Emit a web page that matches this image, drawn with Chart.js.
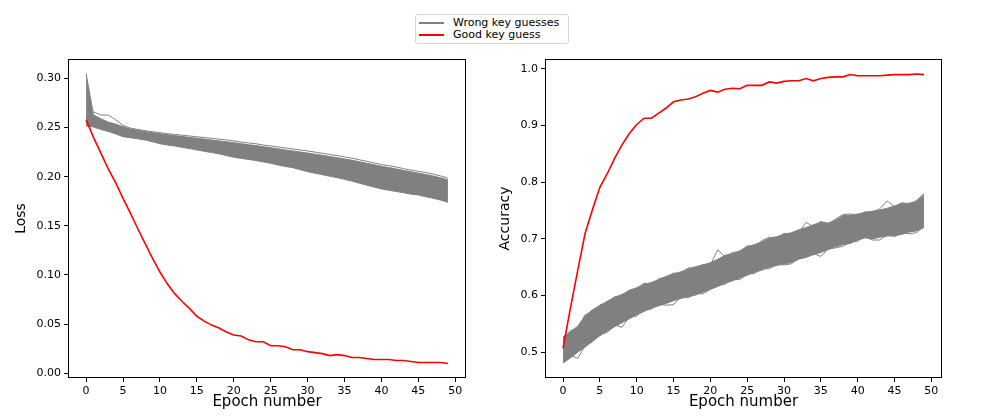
<!DOCTYPE html>
<html lang="en">
<head>
    <meta charset="UTF-8">
    <title>Loss and accuracy per key guess</title>
    <style>
        body {
            margin: 0;
            padding: 0;
            background-color: #ffffff;
            font-family: 'DejaVu Sans', sans-serif;
        }

        #wrap {
            position: relative;
            width: 990px;
            height: 417px;
            overflow: hidden;
        }

        #lossChart {
            position: absolute;
            left: 0;
            top: 0;
        }

        #accChart {
            position: absolute;
            left: 490px;
            top: 0;
        }

        #legend {
            position: absolute;
            left: 415px;
            top: 14px;
            width: 152px;
            height: 28px;
            border: 1px solid #d6d6d6;
            border-radius: 3px;
            background: #fff;
            font-size: 11px;
            color: #000;
        }

        #legend .row {
            position: absolute;
            left: 3px;
            height: 12px;
            line-height: 12px;
            white-space: nowrap;
        }

        #legend .swatch {
            display: inline-block;
            width: 25px;
            height: 1.5px;
            vertical-align: middle;
            margin-right: 9px;
        }
    </style>
</head>
<body>
    <div id="wrap">
        <canvas id="lossChart" width="490" height="417"></canvas>
        <canvas id="accChart" width="500" height="417"></canvas>
        <div id="legend">
            <div class="row" style="top: 2px;"><span class="swatch" style="background-color: #808080;"></span>Wrong key guesses</div>
            <div class="row" style="top: 14px;"><span class="swatch" style="background-color: #ff0000;"></span>Good key guess</div>
        </div>
    </div>

    <script src="https://cdn.jsdelivr.net/npm/chart.js"></script>
    <script>
        // epochs 0..49
        const epochs = [0, 1, 2, 3, 4, 5, 6, 7, 8, 9, 10, 11, 12, 13, 14, 15, 16, 17, 18, 19,
            20, 21, 22, 23, 24, 25, 26, 27, 28, 29, 30, 31, 32, 33, 34, 35, 36, 37, 38, 39,
            40, 41, 42, 43, 44, 45, 46, 47, 48, 49];

        const epochTicks = [0, 5, 10, 15, 20, 25, 30, 35, 40, 45, 50];
        const lossTicks = [0, 0.05, 0.10, 0.15, 0.20, 0.25, 0.30];
        const accTicks = [0.5, 0.6, 0.7, 0.8, 0.9, 1.0];

        // good key guess
        const goodLoss = [0.258, 0.240, 0.224, 0.208, 0.194, 0.178, 0.163, 0.147, 0.132, 0.117,
            0.103, 0.091, 0.081, 0.073, 0.066, 0.058, 0.053, 0.049, 0.046, 0.042,
            0.039, 0.038, 0.034, 0.032, 0.032, 0.028, 0.028, 0.027, 0.024, 0.024,
            0.022, 0.021, 0.020, 0.018, 0.019, 0.018, 0.016, 0.016, 0.015, 0.014,
            0.014, 0.014, 0.013, 0.013, 0.012, 0.011, 0.011, 0.011, 0.011, 0.010];

        const goodAcc = [0.507, 0.578, 0.645, 0.710, 0.752, 0.791, 0.815, 0.842, 0.866, 0.886,
            0.902, 0.913, 0.913, 0.922, 0.931, 0.942, 0.945, 0.947, 0.951, 0.957,
            0.962, 0.959, 0.964, 0.966, 0.965, 0.971, 0.971, 0.971, 0.977, 0.975,
            0.978, 0.979, 0.979, 0.983, 0.979, 0.983, 0.985, 0.986, 0.986, 0.990,
            0.988, 0.988, 0.988, 0.988, 0.989, 0.990, 0.990, 0.990, 0.991, 0.990];

        // wrong key guesses: edges of the bundle plus a few stray lines
        const wrongLossEdge = [0.262, 0.266, 0.2627, 0.2627, 0.2578, 0.2522, 0.2495, 0.248, 0.2468, 0.2458,
            0.2448, 0.2438, 0.243, 0.2422, 0.2414, 0.2406, 0.2398, 0.239, 0.2382, 0.2374,
            0.2364, 0.2352, 0.2343, 0.2335, 0.2322, 0.2312, 0.2302, 0.2292, 0.2282, 0.2272,
            0.2262, 0.225, 0.2238, 0.2226, 0.2214, 0.2202, 0.2188, 0.2172, 0.2156, 0.214,
            0.2124, 0.2112, 0.2098, 0.2082, 0.2066, 0.2054, 0.2042, 0.2026, 0.2008, 0.1986];

        const wrongLossHigh = [0.305, 0.263, 0.259, 0.2555, 0.2535, 0.2508, 0.2485, 0.2472, 0.2458, 0.2448,
            0.2437, 0.2427, 0.2418, 0.2409, 0.24, 0.2391, 0.2382, 0.2373, 0.2364, 0.2355,
            0.2346, 0.2335, 0.2325, 0.2316, 0.2304, 0.2294, 0.2283, 0.2272, 0.2262, 0.2251,
            0.224, 0.2229, 0.2217, 0.2205, 0.2193, 0.2181, 0.2167, 0.2152, 0.2136, 0.2121,
            0.2106, 0.2093, 0.2079, 0.2064, 0.2049, 0.2036, 0.2022, 0.2006, 0.1989, 0.1968];

        const wrongLossLow = [0.2515, 0.2505, 0.248, 0.246, 0.2435, 0.2407, 0.2396, 0.2385, 0.2372, 0.2355,
            0.2335, 0.2322, 0.2312, 0.2298, 0.2286, 0.2272, 0.2258, 0.2245, 0.2232, 0.2215,
            0.2197, 0.2186, 0.2175, 0.2164, 0.215, 0.2136, 0.2118, 0.2103, 0.2092, 0.207,
            0.2051, 0.2035, 0.202, 0.2004, 0.199, 0.1973, 0.1955, 0.1934, 0.1913, 0.1894,
            0.1875, 0.1862, 0.1849, 0.1836, 0.1822, 0.1814, 0.1796, 0.178, 0.1762, 0.1739];

        const wrongAccHigh = [0.527, 0.536, 0.546, 0.564, 0.575, 0.582, 0.590, 0.597, 0.602, 0.609,
            0.614, 0.620, 0.623, 0.628, 0.634, 0.638, 0.642, 0.647, 0.651, 0.654,
            0.658, 0.664, 0.671, 0.674, 0.679, 0.686, 0.690, 0.695, 0.701, 0.704,
            0.708, 0.711, 0.716, 0.720, 0.725, 0.729, 0.728, 0.733, 0.741, 0.742,
            0.744, 0.746, 0.749, 0.751, 0.754, 0.758, 0.762, 0.763, 0.766, 0.778];

        const wrongAccLow = [0.481, 0.490, 0.500, 0.509, 0.520, 0.529, 0.537, 0.545, 0.552, 0.559,
            0.566, 0.572, 0.578, 0.582, 0.586, 0.591, 0.595, 0.598, 0.601, 0.606,
            0.611, 0.616, 0.622, 0.626, 0.631, 0.636, 0.641, 0.645, 0.650, 0.653,
            0.656, 0.658, 0.664, 0.668, 0.672, 0.676, 0.681, 0.686, 0.690, 0.692,
            0.698, 0.702, 0.700, 0.703, 0.705, 0.706, 0.708, 0.712, 0.714, 0.720];

        const wrongAccStrayTop = [0.522, 0.538, 0.543, 0.566, 0.571, 0.584, 0.586, 0.598, 0.597, 0.610,
            0.611, 0.622, 0.619, 0.630, 0.632, 0.640, 0.638, 0.649, 0.648, 0.655,
            0.654, 0.681, 0.668, 0.676, 0.677, 0.688, 0.686, 0.697, 0.703, 0.700,
            0.710, 0.708, 0.712, 0.729, 0.722, 0.731, 0.726, 0.735, 0.743, 0.744,
            0.741, 0.748, 0.747, 0.753, 0.767, 0.757, 0.764, 0.761, 0.768, 0.780];

        const wrongAccStrayLow = [0.484, 0.495, 0.489, 0.512, 0.518, 0.532, 0.535, 0.548, 0.544, 0.562,
            0.564, 0.575, 0.576, 0.585, 0.583, 0.584, 0.598, 0.596, 0.604, 0.603,
            0.611, 0.618, 0.620, 0.629, 0.628, 0.638, 0.639, 0.648, 0.647, 0.655,
            0.654, 0.656, 0.666, 0.667, 0.674, 0.669, 0.683, 0.684, 0.687, 0.694,
            0.696, 0.704, 0.698, 0.698, 0.707, 0.704, 0.710, 0.709, 0.711, 0.722];

        const GRAY = '#808080';
        const RED = '#ff0000';

        function pts(values) {
            return values.map((v, i) => ({ x: epochs[i], y: v }));
        }

        // matplotlib style frame round the plot area
        const frame = {
            id: 'frame',
            afterDraw(chart) {
                const a = chart.chartArea;
                const ctx = chart.ctx;
                ctx.save();
                ctx.strokeStyle = '#000';
                ctx.lineWidth = 1;
                ctx.strokeRect(a.left + 0.5, a.top + 0.5, a.right - a.left - 1, a.bottom - a.top - 1);
                ctx.restore();
            }
        };

        function grayLine(values) {
            return { label: 'Wrong key guesses', data: pts(values), borderColor: GRAY, borderWidth: 1, fill: false };
        }

        function makeChart(id, cfg) {
            const ctx = document.getElementById(id).getContext('2d');
            return new Chart(ctx, {
                type: 'line',
                data: { datasets: cfg.datasets },
                options: {
                    responsive: false,
                    animation: false,
                    layout: { padding: { top: 59, right: cfg.padRight, left: 0, bottom: 0 } },
                    elements: { point: { radius: 0 }, line: { tension: 0 } },
                    plugins: { legend: { display: false }, tooltip: { enabled: false } },
                    scales: {
                        x: {
                            type: 'linear',
                            min: -2.45,
                            max: 51.45,
                            afterBuildTicks: s => { s.ticks = epochTicks.map(v => ({ value: v })); },
                            afterFit: s => { s.height = 39; },
                            grid: { drawOnChartArea: false, drawTicks: true, tickLength: 4, color: '#000' },
                            border: { display: false },
                            ticks: { color: '#000', padding: 3, maxRotation: 0, font: { family: 'DejaVu Sans', size: 11 } },
                            title: { display: true, text: 'Epoch number', color: '#000', padding: { top: 0, bottom: 6 },
                                font: { family: 'DejaVu Sans', size: 15 } }
                        },
                        y: {
                            min: cfg.yMin,
                            max: cfg.yMax,
                            afterBuildTicks: s => { s.ticks = cfg.yTicks.map(v => ({ value: v })); },
                            afterFit: s => { s.width = cfg.axisWidth; },
                            grid: { drawOnChartArea: false, drawTicks: true, tickLength: 4, color: '#000' },
                            border: { display: false },
                            ticks: { color: '#000', padding: 3, font: { family: 'DejaVu Sans', size: 11 },
                                callback: v => v.toFixed(cfg.decimals) },
                            title: { display: true, text: cfg.yTitle, color: '#000', padding: { top: cfg.titlePad, bottom: 0 },
                                font: { family: 'DejaVu Sans', size: 14 } }
                        }
                    }
                },
                plugins: [frame]
            });
        }

        makeChart('lossChart', {
            padRight: 24,
            axisWidth: 68,
            titlePad: 13,
            yMin: -0.0048,
            yMax: 0.3197,
            yTicks: lossTicks,
            decimals: 2,
            yTitle: 'Loss',
            datasets: [
                { label: 'Good key guess', data: pts(goodLoss), borderColor: RED, borderWidth: 1.6, fill: false },
                grayLine(wrongLossEdge),
                grayLine(wrongLossHigh),
                { label: 'Wrong key guesses', data: pts(wrongLossLow), borderColor: GRAY, borderWidth: 1,
                    backgroundColor: GRAY, fill: '-1' }
            ]
        });

        makeChart('accChart', {
            padRight: 48,
            axisWidth: 55,
            titlePad: 7,
            yMin: 0.4545,
            yMax: 1.0175,
            yTicks: accTicks,
            decimals: 1,
            yTitle: 'Accuracy',
            datasets: [
                { label: 'Good key guess', data: pts(goodAcc), borderColor: RED, borderWidth: 1.6, fill: false },
                grayLine(wrongAccStrayTop),
                grayLine(wrongAccStrayLow),
                grayLine(wrongAccHigh),
                { label: 'Wrong key guesses', data: pts(wrongAccLow), borderColor: GRAY, borderWidth: 1,
                    backgroundColor: GRAY, fill: '-1' }
            ]
        });
    </script>
</body>
</html>
